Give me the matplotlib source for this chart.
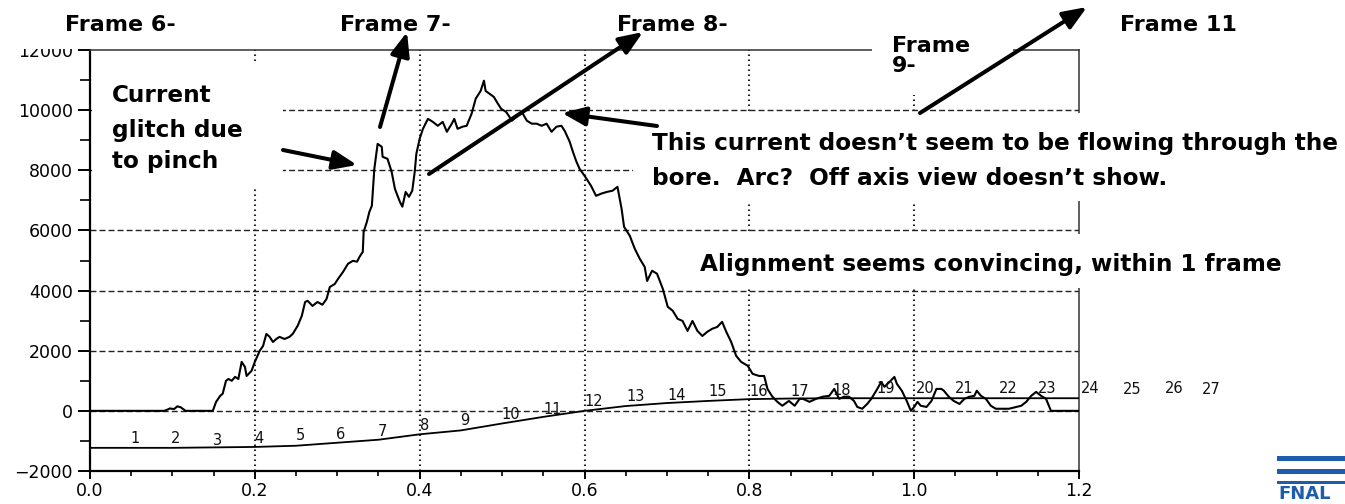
import matplotlib
matplotlib.use("Agg")
import matplotlib.pyplot as plt
from matplotlib.patches import Rectangle, FancyArrowPatch
from matplotlib.ticker import MultipleLocator

plt.rcParams["lines.scale_dashes"] = False
plt.rcParams["axes.unicode_minus"] = True
plt.rcParams["font.family"] = ["DejaVu Sans"]

# ---- measured current trace (time, current) ----
current_t = [
    0.000, 0.090, 0.093, 0.097, 0.102, 0.106, 0.110, 0.113, 0.116, 0.149,
    0.153, 0.158, 0.161, 0.165, 0.168, 0.172, 0.176, 0.180, 0.184, 0.188,
    0.190, 0.196, 0.200, 0.206, 0.210, 0.214, 0.218, 0.222, 0.226, 0.230,
    0.236, 0.242, 0.246, 0.252, 0.257, 0.261, 0.264, 0.270, 0.276, 0.282,
    0.287, 0.291, 0.297, 0.301, 0.307, 0.313, 0.319, 0.324, 0.327, 0.331,
    0.332, 0.336, 0.339, 0.342, 0.345, 0.349, 0.354, 0.355, 0.361, 0.366,
    0.370, 0.376, 0.379, 0.383, 0.387, 0.391, 0.394, 0.396, 0.400, 0.404,
    0.410, 0.416, 0.422, 0.428, 0.433, 0.439, 0.442, 0.446, 0.452, 0.457,
    0.463, 0.468, 0.474, 0.478, 0.480, 0.485, 0.490, 0.495, 0.499, 0.505,
    0.512, 0.518, 0.524, 0.530, 0.536, 0.542, 0.548, 0.554, 0.560, 0.566,
    0.572, 0.576, 0.582, 0.586, 0.590, 0.594, 0.600, 0.608, 0.614, 0.620,
    0.627, 0.634, 0.640, 0.645, 0.648, 0.655, 0.661, 0.667, 0.673, 0.676,
    0.682, 0.688, 0.695, 0.701, 0.707, 0.713, 0.719, 0.725, 0.731, 0.737,
    0.743, 0.749, 0.755, 0.761, 0.767, 0.772, 0.778, 0.784, 0.790, 0.798,
    0.804, 0.812, 0.818, 0.822, 0.828, 0.834, 0.840, 0.848, 0.855, 0.861,
    0.865, 0.873, 0.881, 0.889, 0.897, 0.903, 0.909, 0.915, 0.921, 0.927,
    0.931, 0.937, 0.943, 0.948, 0.954, 0.960, 0.964, 0.970, 0.976, 0.979,
    0.985, 0.991, 0.996, 1.000, 1.004, 1.008, 1.015, 1.021, 1.027, 1.033,
    1.036, 1.042, 1.048, 1.055, 1.061, 1.067, 1.073, 1.076, 1.081, 1.087,
    1.093, 1.099, 1.107, 1.115, 1.124, 1.130, 1.136, 1.142, 1.148, 1.154,
    1.160, 1.166, 1.200,
]
current_v = [
    0, 0, 30, 80, 60, 150, 120, 60, 0, 0,
    300, 500, 570, 1000, 1060, 1000, 1130, 1060, 1630, 1460,
    1160, 1330, 1630, 2000, 2160, 2560, 2460, 2290, 2390, 2460,
    2390, 2460, 2560, 2830, 3160, 3620, 3660, 3490, 3620, 3530,
    3720, 4120, 4220, 4390, 4620, 4890, 4990, 4960, 5120, 5290,
    5950, 6290, 6620, 6820, 8050, 8880, 8780, 8450, 8380, 7950,
    7380, 6950, 6790, 7280, 7120, 7320, 7950, 8550, 9050, 9380,
    9710, 9610, 9480, 9610, 9280, 9550, 9710, 9380, 9450, 9480,
    9880, 10380, 10640, 10980, 10640, 10540, 10440, 10210, 10040, 9940,
    9650, 9810, 9940, 9650, 9550, 9550, 9480, 9550, 9280, 9450,
    9480, 9310, 8950, 8610, 8300, 8050, 7820, 7480, 7150, 7220,
    7280, 7320, 7450, 6720, 6120, 5820, 5390, 5060, 4790, 4320,
    4660, 4560, 4060, 3460, 3330, 3060, 2990, 2660, 2990, 2660,
    2490, 2630, 2730, 2790, 2960, 2630, 2290, 1830, 1630, 1500,
    1230, 1160, 1160, 730, 470, 300, 170, 330, 170, 400,
    400, 300, 400, 470, 500, 730, 400, 470, 470, 330,
    130, 70, 230, 400, 670, 960, 800, 960, 1130, 900,
    670, 330, 0, 130, 300, 170, 130, 330, 730, 730,
    670, 470, 330, 230, 400, 470, 500, 670, 500, 400,
    170, 70, 70, 70, 130, 170, 300, 500, 630, 500,
    400, 0, 0,
]

# ---- frame-timing reference trace ----
ref_t = [0.00, 0.10, 0.20, 0.25, 0.30, 0.35, 0.40, 0.45, 0.50, 0.55,
         0.60, 0.65, 0.70, 0.75, 0.80, 0.85, 0.90, 1.00, 1.10, 1.20]
ref_v = [-1230, -1230, -1200, -1160, -1060, -960, -780, -650, -420, -200,
         0, 160, 260, 330, 390, 410, 420, 420, 420, 420]

# ---- frame numbers along the reference trace ----
frame_labels = ["1", "2", "3", "4", "5", "6", "7", "8", "9", "10", "11", "12",
                "13", "14", "15", "16", "17", "18", "19", "20", "21", "22",
                "23", "24", "25", "26", "27"]
frame_t = [0.055, 0.104, 0.155, 0.205, 0.255, 0.304, 0.355, 0.406, 0.455,
           0.511, 0.561, 0.611, 0.662, 0.712, 0.762, 0.811, 0.861, 0.912,
           0.966, 1.013, 1.061, 1.114, 1.161, 1.213, 1.264, 1.315, 1.361]
frame_v = [-930, -930, -1000, -930, -830, -800, -700, -500, -330,
           -130, 30, 300, 470, 500, 630, 630, 630, 670,
           730, 730, 730, 730, 730, 730, 700, 730, 700]

# ---- axes ticks ----
x_ticks = [0.0, 0.2, 0.4, 0.6, 0.8, 1.0, 1.2]
x_tick_labels = ["0.0", "0.2", "0.4", "0.6", "0.8", "1.0", "1.2"]
y_ticks = [-2000, 0, 2000, 4000, 6000, 8000, 10000, 12000]
y_tick_labels = ["\u22122000", "0", "2000", "4000", "6000", "8000", "10000", "12000"]
grid_x = [0.2, 0.4, 0.6, 0.8, 1.0]
grid_y = [0, 2000, 4000, 6000, 8000, 10000]

W, H = 1345, 504
fig = plt.figure(figsize=(W / 100, H / 100), dpi=100)
fig.patch.set_facecolor("white")


def fx(px):
    return px / W


def fy(py):
    return 1.0 - py / H


ax = fig.add_axes([fx(90), fy(471), fx(1079) - fx(90), fy(50) - fy(471)])
ax.set_xlim(0, 1.2)
ax.set_ylim(-2000, 12000)

for gy in grid_y:
    ax.axhline(gy, color="#222222", lw=1.0, ls=(0, (4.3, 2.2)), zorder=1)
for gx in grid_x:
    ax.axvline(gx, color="#222222", lw=1.5, ls=(0, (1.1, 2.5)), zorder=1)

ax.plot(ref_t, ref_v, color="black", lw=1.3, zorder=3)
ax.plot(current_t, current_v, color="black", lw=1.5, zorder=4)

for lab, t, v in zip(frame_labels, frame_t, frame_v):
    ax.text(t, v, lab, fontsize=10.5, ha="center", va="center",
            clip_on=False, zorder=5, color="#111111")

ax.set_xticks(x_ticks)
ax.set_xticklabels(x_tick_labels)
ax.xaxis.set_minor_locator(MultipleLocator(0.05))
ax.set_yticks(y_ticks)
ax.set_yticklabels(y_tick_labels)
ax.yaxis.set_minor_locator(MultipleLocator(1000))
ax.tick_params(axis="x", which="major", direction="out", length=5.5,
               width=1.4, pad=2.5, labelsize=12.5)
ax.tick_params(axis="x", which="minor", direction="out", length=3.5, width=1.2)
ax.tick_params(axis="y", which="major", direction="out", length=8.5,
               width=1.4, pad=4, labelsize=12.5)
ax.tick_params(axis="y", which="minor", direction="out", length=7, width=1.2)
for side in ["left", "bottom"]:
    ax.spines[side].set_linewidth(1.6)
for side in ["top", "right"]:
    ax.spines[side].set_linewidth(1.1)
    ax.spines[side].set_color("#333333")

# white backgrounds of the annotation boxes (pixel extents x0, y0, x1, y1)
boxes = [
    (0, 0, 240, 49),
    (92, 62, 283, 188),
    (325, 0, 470, 45),
    (600, 0, 750, 45),
    (872, 0, 1013, 95),
    (1100, 0, 1260, 45),
    (633, 113, 1345, 201),
    (680, 234, 1345, 288),
]
for x0, y0, x1, y1 in boxes:
    fig.add_artist(Rectangle((fx(x0), fy(y1)), fx(x1) - fx(x0), fy(y0) - fy(y1),
                             transform=fig.transFigure, facecolor="white",
                             edgecolor="none", zorder=5))

# annotation texts: (string, left px, baseline px, size)
notes = [
    ("Frame 6-", 65, 31, 16),
    ("Frame 7-", 340, 31, 16),
    ("Frame 8-", 617, 31, 16),
    ("Frame", 892, 52, 16),
    ("9-", 892, 72, 16),
    ("Frame 11", 1120, 31, 16),
    ("Current", 112, 102, 16.7),
    ("glitch due", 112, 137, 16.7),
    ("to pinch", 112, 168, 16.7),
    ("This current doesn\u2019t seem to be flowing through the", 652, 150, 16.7),
    ("bore.  Arc?  Off axis view doesn\u2019t show.", 652, 185, 16.7),
    ("Alignment seems convincing, within 1 frame", 700, 271, 16.7),
]
for s, x, y, size in notes:
    fig.text(fx(x), fy(y), s, fontsize=size, fontweight="bold",
             ha="left", va="baseline", color="black", zorder=6)

# arrows: (tail px, head px)
arrows = [
    ((283, 150), (357, 165)),
    ((380, 127), (407, 32)),
    ((429, 174), (643, 32)),
    ((657, 126), (562, 113)),
    ((920, 113), (1087, 7)),
]
for (x0, y0), (x1, y1) in arrows:
    fig.add_artist(FancyArrowPatch((fx(x0), fy(y0)), (fx(x1), fy(y1)),
                                   transform=fig.transFigure,
                                   arrowstyle="-|>,head_length=0.8,head_width=0.32",
                                   mutation_scale=18, lw=2.9, color="black",
                                   shrinkA=0, shrinkB=0, zorder=7))

# corner logo
logo_blue = "#1d5dab"
for y0, y1 in [(456, 461), (469, 474), (481, 484)]:
    fig.add_artist(Rectangle((fx(1277), fy(y1)), fx(1345) - fx(1277), fy(y0) - fy(y1),
                             transform=fig.transFigure, facecolor=logo_blue,
                             edgecolor="none", zorder=5))
fig.text(fx(1278), fy(499), "FNAL", fontsize=13, fontweight="bold",
         color=logo_blue, ha="left", va="baseline", zorder=6)

fig.savefig("out.png", dpi=100, facecolor="white")
